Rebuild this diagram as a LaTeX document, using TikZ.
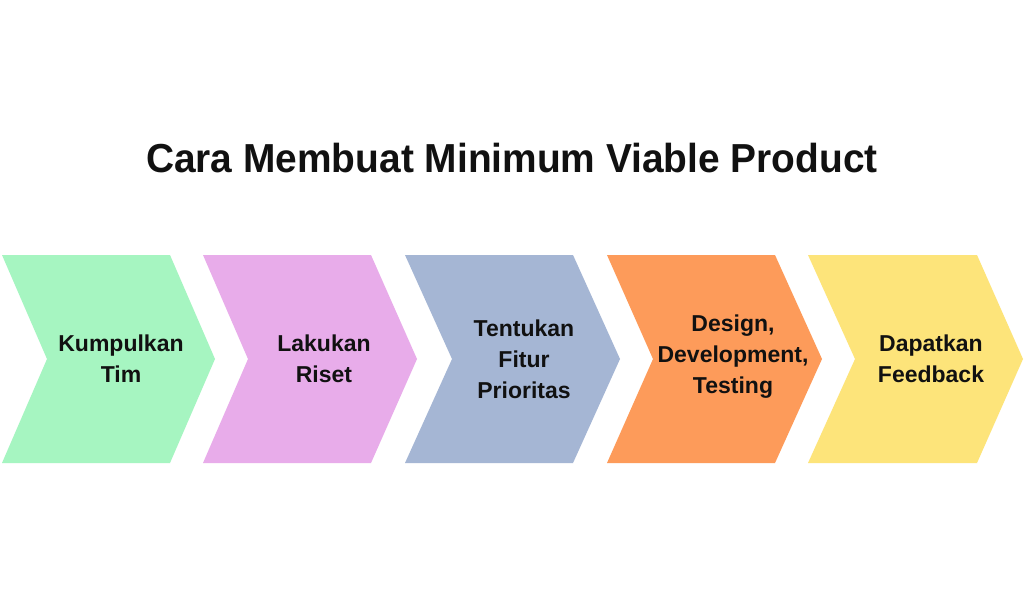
\documentclass[tikz,border=0pt]{standalone}
\usepackage{fontspec}
\setmainfont{Liberation Sans}
\newfontfamily\titlefont[FakeStretch=0.96]{Liberation Sans}
\definecolor{kumpul}{HTML}{A6F5C1}
\definecolor{riset}{HTML}{E8ACEA}
\definecolor{fitur}{HTML}{A5B6D4}
\definecolor{dev}{HTML}{FD9B5A}
\definecolor{feed}{HTML}{FDE47A}
\definecolor{ink}{HTML}{111111}
\tikzset{
  steplabel/.style={align=center,text=ink,font=\fontsize{23}{31}\selectfont\bfseries},
}

\begin{document}
\begin{tikzpicture}[x=1pt,y=-1pt]
\useasboundingbox[fill=white] (0,0) rectangle (1024,597);
\node[text=ink,font=\titlefont\fontsize{40.5}{44}\selectfont\bfseries] (judul) at (512,158) {Cara Membuat Minimum Viable Product};
\fill[kumpul] (2,255) -- (170,255) -- (215,359) -- (170,463) -- (2,463) -- (47,359) -- cycle;
\fill[riset] (203,255) -- (371,255) -- (417,359) -- (371,463) -- (203,463) -- (248,359) -- cycle;
\fill[fitur] (405,255) -- (573,255) -- (620,359) -- (573,463) -- (405,463) -- (452,359) -- cycle;
\fill[dev] (607,255) -- (775,255) -- (822,359) -- (775,463) -- (607,463) -- (653,359) -- cycle;
\fill[feed] (808,255) -- (977,255) -- (1023,359) -- (977,463) -- (808,463) -- (855,359) -- cycle;
\node[steplabel] (tim) at (121,359) {Kumpulkan\\Tim};
\node[steplabel] (riset) at (324,359) {Lakukan\\Riset};
\node[steplabel] (fitur) at (524,359) {Tentukan\\Fitur\\Prioritas};
\node[steplabel] (testing) at (733,357) {Design,\\Development,\\Testing};
\node[steplabel] (feedback) at (931,359) {Dapatkan\\Feedback};
\end{tikzpicture}
\end{document}
